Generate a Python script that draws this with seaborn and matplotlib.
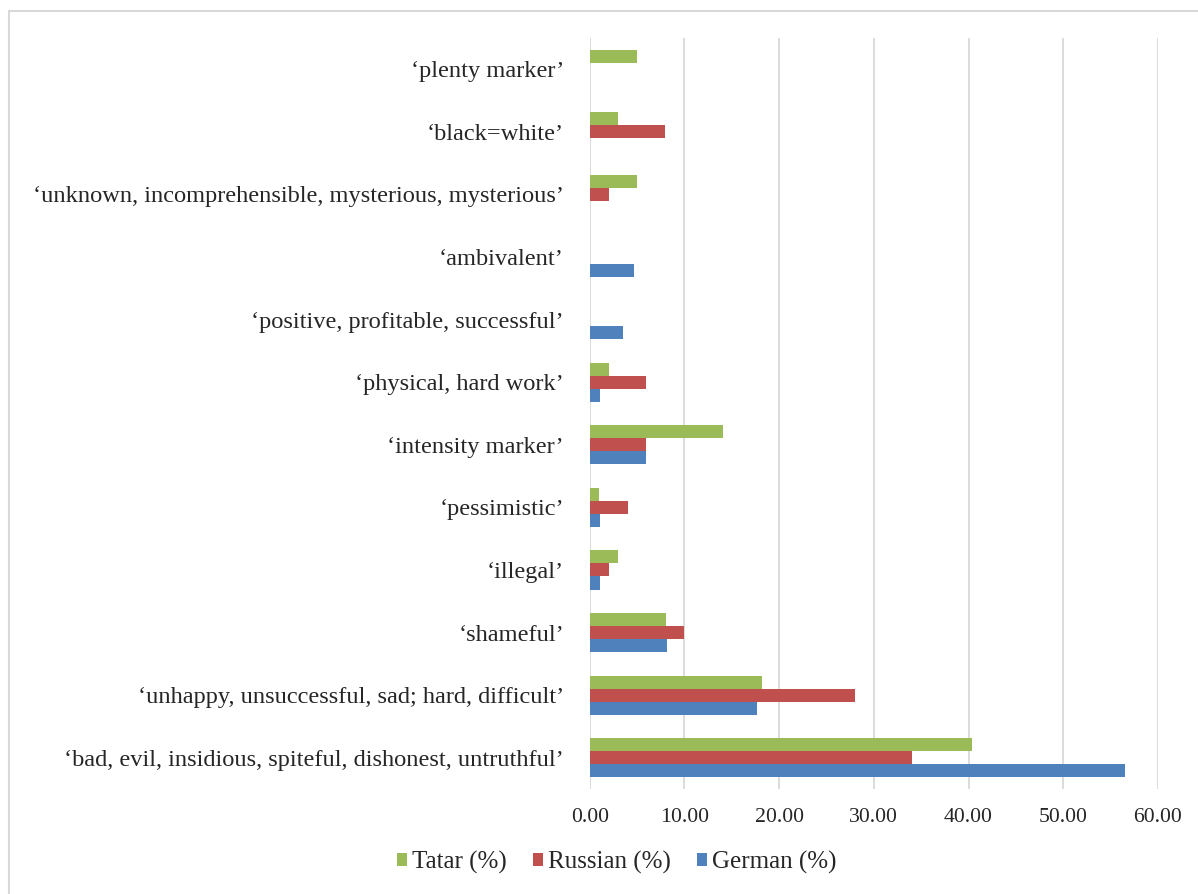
import matplotlib
matplotlib.use("Agg")
import matplotlib.pyplot as plt
from matplotlib.patches import Rectangle
import seaborn as sns
import pandas as pd

categories = [
    "‘plenty marker’",
    "‘black=white’",
    "‘unknown, incomprehensible, mysterious, mysterious’",
    "‘ambivalent’",
    "‘positive, profitable, successful’",
    "‘physical, hard work’",
    "‘intensity marker’",
    "‘pessimistic’",
    "‘illegal’",
    "‘shameful’",
    "‘unhappy, unsuccessful, sad; hard, difficult’",
    "‘bad, evil, insidious, spiteful, dishonest, untruthful’",
]
tatar = [5.0, 3.0, 5.0, 0.0, 0.0, 2.0, 14.1, 1.0, 3.0, 8.1, 18.2, 40.4]
russian = [0.0, 8.0, 2.0, 0.0, 0.0, 6.0, 6.0, 4.0, 2.0, 10.0, 28.0, 34.0]
german = [0.0, 0.0, 0.0, 4.7, 3.5, 1.1, 5.9, 1.1, 1.1, 8.2, 17.7, 56.5]
series_names = ["Tatar (%)", "Russian (%)", "German (%)"]
colors = ["#9BBB59", "#C0504D", "#4F81BD"]
x_ticks = [0, 10, 20, 30, 40, 50, 60]

rows = []
for name, vals in zip(series_names, [tatar, russian, german]):
    for cat, v in zip(categories, vals):
        rows.append({"category": cat, "value": v, "series": name})
df = pd.DataFrame(rows)

sns.set_style("white")
plt.rcParams["font.family"] = ["Liberation Serif", "DejaVu Serif"]

fig = plt.figure(figsize=(11.98, 8.94), dpi=100)
ax = fig.add_axes([0.4922, 0.1174, 0.9666 - 0.4922, 0.9575 - 0.1174])

sns.barplot(
    data=df, y="category", x="value", hue="series",
    order=categories, hue_order=series_names, palette=colors,
    orient="h", width=0.624, errorbar=None, linewidth=0,
    saturation=1, ax=ax,
)

ax.set_xlim(0, 60)
ax.set_xticks(x_ticks)
ax.set_xticklabels([f"{t:.2f}" for t in x_ticks], fontsize=15.7)
ax.tick_params(axis="x", length=0, pad=14)
ax.tick_params(axis="y", length=0, pad=18.5, labelsize=17.6)
ax.set_xlabel("")
ax.set_ylabel("")
ax.grid(axis="x", color="#d9d9d9", linewidth=1.3)
ax.set_axisbelow(True)
for s in ax.spines.values():
    s.set_visible(False)

handles, labels = ax.get_legend_handles_labels()
ax.legend_.remove()
fig.legend(
    handles, labels, loc="center", bbox_to_anchor=(617 / 1198, 1 - 862 / 894),
    ncol=3, frameon=False, fontsize=18, handlelength=0.4, handleheight=0.4,
    handletextpad=0.2, columnspacing=1.05,
)

fig.add_artist(Rectangle((9 / 1198, -0.1), 1.2, 1 - 11 / 894 + 0.1,
                         transform=fig.transFigure, fill=False,
                         edgecolor="#d9d9d9", linewidth=1.5))

fig.savefig("out.png", dpi=100)
